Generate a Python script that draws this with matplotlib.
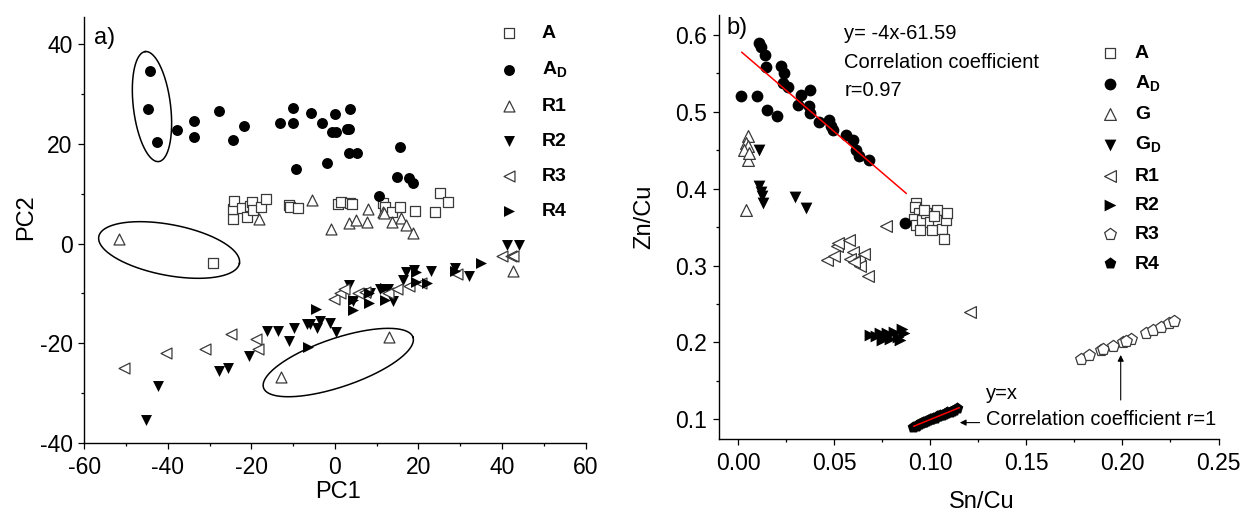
import numpy as np
import matplotlib
matplotlib.use('Agg')
import matplotlib.pyplot as plt

plt.rcParams['font.family'] = ['Liberation Sans', 'DejaVu Sans']
plt.rcParams['axes.unicode_minus'] = False
plt.rcParams['mathtext.fontset'] = 'custom'
plt.rcParams['mathtext.rm'] = 'Liberation Sans'
plt.rcParams['mathtext.bf'] = 'Liberation Sans:bold'

# ---- panel a) PCA scores ----
a_pc1 = [-24.4, -24.4, -24.2, -22.2, -21.0, -20.4, -19.8, -19.7, -17.8, -16.6, -10.9, -10.7, -8.8,
         0.8, 1.5, 3.7, 4.0, 11.4, 11.9, 13.6, 15.7, 19.1, 24.0, 25.1, 27.1, -29.3]
a_pc2 = [4.9, 6.9, 8.5, 7.2, 5.3, 7.5, 8.4, 6.7, 7.3, 8.9, 7.8, 7.3, 7.1,
         7.9, 8.3, 8.1, 7.9, 8.1, 7.4, 6.3, 7.3, 6.5, 6.3, 10.2, 8.4, -4.0]
ad_pc1 = [-44.2, -44.8, -42.7, -37.8, -33.7, -33.8, -27.7, -24.5, -21.8, -13.2, -10.0, -10.0, -9.4,
          -5.8, -3.2, -0.6, 0.2, 0.0, -2.0, 2.8, 3.4, 3.5, 3.3, 5.3, 15.7, 14.9, 17.8, 18.8, 10.5]
ad_pc2 = [34.6, 27.0, 20.4, 22.7, 24.6, 21.3, 26.7, 20.8, 23.6, 24.3, 27.3, 24.3, 14.9,
          26.3, 24.3, 22.3, 22.3, 26.1, 16.1, 23.0, 23.0, 27.0, 18.2, 18.2, 19.3, 13.4, 13.1, 12.2, 9.5]
r1_pc1 = [-18.1, -5.5, -1.0, 3.4, 5.0, 7.6, 7.8, 11.4, 11.8, 13.7, 15.9, 16.9, 18.6, -51.6, -12.9, 12.9, 42.6]
r1_pc2 = [4.9, 8.7, 2.9, 4.2, 4.7, 4.4, 6.9, 6.3, 6.1, 4.4, 5.1, 3.7, 2.2, 1.0, -26.9, -18.7, -5.6]
r2_pc1 = [-45.3, -42.4, -27.7, -25.7, -20.5, -16.2, -13.6, -10.9, -9.7, -6.7, -6.0, -4.2, -3.5, -1.2, 0.3,
          3.4, 4.4, 8.3, 10.7, 12.6, 14.0, 16.4, 17.1, 19.0, 23.1, 28.8, 32.1, 41.1, 44.0]
r2_pc2 = [-35.4, -28.6, -25.5, -24.9, -22.6, -17.6, -17.6, -19.6, -17.0, -16.2, -16.2, -16.9, -15.6, -16.0, -17.8,
          -8.4, -11.5, -10.0, -9.1, -9.1, -11.5, -7.3, -5.7, -5.4, -5.6, -5.0, -6.5, -0.3, -0.3]
r3_pc1 = [-50.5, -40.4, -31.1, -24.8, -18.8, -18.3, -0.2, 1.2, 2.2, 5.5, 7.1, 12.6, 14.8, 17.8, 20.5,
          29.2, 39.9, 42.1, 42.6]
r3_pc2 = [-24.9, -21.9, -21.2, -18.2, -19.2, -21.2, -11.1, -10.0, -9.2, -10.0, -9.7, -9.9, -9.2, -8.5, -7.9,
          -6.2, -2.6, -2.5, -2.6]
r4_pc1 = [-6.4, -4.6, 4.4, 4.4, 8.2, 8.2, 12.0, 12.0, 19.3, 19.3, 22.1, 28.8, 35.0]
r4_pc2 = [-20.7, -13.2, -11.3, -13.3, -10.0, -12.0, -11.3, -9.0, -7.7, -5.7, -8.0, -5.6, -4.0]

# ellipses: centre (data), semi-axes (px), angle (deg)
ell_cx = [-43.8, -39.7, 0.8]
ell_cy = [27.5, -1.3, -23.9]
ell_a = [55.4, 71.6, 78.9]
ell_b = [18.6, 25.4, 24.3]
ell_ang = [97, -10.8, 18.7]

# ---- panel b) ratios ----
b_a_x = [0.0926, 0.0920, 0.0940, 0.0916, 0.0926, 0.0957, 0.0947, 0.0978, 0.0999, 0.1009, 0.1036, 0.1040,
         0.1061, 0.1071, 0.1081, 0.1088, 0.0968, 0.1020]
b_a_y = [0.381, 0.376, 0.368, 0.361, 0.353, 0.359, 0.346, 0.368, 0.357, 0.346, 0.372, 0.359,
         0.348, 0.335, 0.359, 0.369, 0.372, 0.364]
b_ad_x = [0.0017, 0.0101, 0.0151, 0.0203, 0.0110, 0.0122, 0.0141, 0.0147, 0.0225, 0.0240, 0.0234, 0.0258,
          0.0327, 0.0372, 0.0312, 0.0368, 0.0374, 0.0420, 0.0471, 0.0482, 0.0492, 0.0560, 0.0596, 0.0612,
          0.0627, 0.0684, 0.0871]
b_ad_y = [0.521, 0.520, 0.502, 0.494, 0.590, 0.585, 0.574, 0.559, 0.560, 0.551, 0.538, 0.533,
          0.522, 0.528, 0.509, 0.507, 0.498, 0.487, 0.489, 0.481, 0.476, 0.470, 0.463, 0.450,
          0.443, 0.437, 0.355]
b_g_x = [0.0052, 0.0043, 0.0052, 0.0033, 0.0054, 0.0058, 0.0043]
b_g_y = [0.468, 0.459, 0.455, 0.450, 0.437, 0.447, 0.372]
b_gd_x = [0.0110, 0.0110, 0.0122, 0.0126, 0.0130, 0.0296, 0.0352]
b_gd_y = [0.450, 0.403, 0.396, 0.390, 0.382, 0.389, 0.375]
b_r1_x = [0.0771, 0.0461, 0.0513, 0.0519, 0.0502, 0.0580, 0.0596, 0.0585, 0.0627, 0.0658, 0.0637, 0.0678,
          0.1206, 0.0606]
b_r1_y = [0.352, 0.307, 0.325, 0.329, 0.312, 0.333, 0.318, 0.309, 0.309, 0.315, 0.299, 0.286,
          0.240, 0.305]
b_r2_x = [0.0689, 0.0740, 0.0750, 0.0775, 0.0790, 0.0813, 0.0833, 0.0854, 0.0864, 0.0844, 0.0760, 0.0720]
b_r2_y = [0.210, 0.212, 0.203, 0.212, 0.204, 0.214, 0.207, 0.218, 0.212, 0.203, 0.208, 0.208]
b_r3_x = [0.1785, 0.1826, 0.1888, 0.1898, 0.1950, 0.2002, 0.2043, 0.2120, 0.2157, 0.2202, 0.2240, 0.2270, 0.2020]
b_r3_y = [0.1785, 0.1840, 0.1900, 0.1920, 0.1950, 0.2010, 0.2050, 0.2120, 0.2160, 0.2200, 0.2250, 0.2280, 0.2020]
b_r4_x = [0.0912, 0.0925, 0.0931, 0.0944, 0.0950, 0.0963, 0.0968, 0.0979, 0.0991, 0.0998, 0.1006, 0.1017,
          0.1024, 0.1035, 0.1043, 0.1052, 0.1061, 0.1070, 0.1082, 0.1089, 0.1101, 0.1112, 0.1125, 0.1140]
b_r4_y = [0.0905, 0.0918, 0.0929, 0.0940, 0.0953, 0.0961, 0.0970, 0.0981, 0.0988, 0.1000, 0.1004, 0.1019,
          0.1021, 0.1037, 0.1041, 0.1055, 0.1060, 0.1072, 0.1080, 0.1091, 0.1099, 0.1114, 0.1127, 0.1150]
fit1_x = [0.0020, 0.0875]
fit1_y = [0.5775, 0.3940]
fit2_x = [0.0915, 0.1150]
fit2_y = [0.0910, 0.1150]

open_kw = dict(facecolors='white', edgecolors='#3a3a3a', linewidths=0.9)
fill_kw = dict(color='black', linewidths=0)

fig = plt.figure(figsize=(12.4, 5.13), dpi=100)
ax1 = fig.add_axes([0.068, 0.137, 0.4042, 0.830])
ax2 = fig.add_axes([0.5795, 0.1437, 0.4032, 0.827])

# panel a
ax1.scatter(a_pc1, a_pc2, marker='s', s=42, label='A', **open_kw)
ax1.scatter(ad_pc1, ad_pc2, marker='o', s=62, label='A$_{\\mathbf{D}}$', **fill_kw)
ax1.scatter(r1_pc1, r1_pc2, marker='^', s=62, label='R1', **open_kw)
ax1.scatter(r2_pc1, r2_pc2, marker='v', s=62, label='R2', **fill_kw)
ax1.scatter(r3_pc1, r3_pc2, marker='<', s=62, label='R3', **open_kw)
ax1.scatter(r4_pc1, r4_pc2, marker='>', s=62, label='R4', **fill_kw)
ax1.set_xlim(-60, 60)
ax1.set_ylim(-40, 45.5)
ax1.set_xticks(np.arange(-60, 61, 20))
ax1.set_xticks(np.arange(-50, 60, 20), minor=True)
ax1.set_yticks(np.arange(-40, 41, 20))
ax1.set_yticks(np.arange(-30, 45, 20), minor=True)
ax1.set_xlabel('PC1', fontsize=17, va='center')
ax1.set_ylabel('PC2', fontsize=17, va='center')
ax1.xaxis.set_label_coords(0.506, -0.1157)
ax1.yaxis.set_label_coords(-0.1167, 0.53)
ax1.text(-57.6, 41.2, 'a)', fontsize=17, va='center', ha='left')


def draw_ellipse(ax, cx, cy, a_px, b_px, ang):
    # ellipse defined in screen pixels so the shape is not sheared by the axis scales
    pos = ax.get_position()
    x0, x1 = ax.get_xlim()
    y0, y1 = ax.get_ylim()
    sx = pos.width * fig.get_figwidth() * fig.dpi / (x1 - x0)
    sy = pos.height * fig.get_figheight() * fig.dpi / (y1 - y0)
    t = np.linspace(0, 2 * np.pi, 300)
    th = np.deg2rad(ang)
    u = a_px * np.cos(t)
    v = b_px * np.sin(t)
    ax.plot(cx + (u * np.cos(th) - v * np.sin(th)) / sx,
            cy + (u * np.sin(th) + v * np.cos(th)) / sy, color='black', lw=1.1)


for cx, cy, ea, eb, ang in zip(ell_cx, ell_cy, ell_a, ell_b, ell_ang):
    draw_ellipse(ax1, cx, cy, ea, eb, ang)

ax1.legend(loc='upper left', bbox_to_anchor=(0.4024, 0.952), bbox_transform=fig.transFigure,
           frameon=False, borderpad=0, borderaxespad=0, handlelength=1.0, handletextpad=1.2,
           labelspacing=0.9, scatterpoints=1, prop={'weight': 'bold', 'size': 14})

# panel b
ax2.scatter(b_a_x, b_a_y, marker='s', s=52, label='A', **open_kw)
ax2.scatter(b_ad_x, b_ad_y, marker='o', s=72, label='A$_{\\mathbf{D}}$', **fill_kw)
ax2.scatter(b_g_x, b_g_y, marker='^', s=72, label='G', **open_kw)
ax2.scatter(b_gd_x, b_gd_y, marker='v', s=72, label='G$_{\\mathbf{D}}$', **fill_kw)
ax2.scatter(b_r1_x, b_r1_y, marker='<', s=72, label='R1', **open_kw)
ax2.scatter(b_r2_x, b_r2_y, marker='>', s=72, label='R2', **fill_kw)
ax2.scatter(b_r3_x, b_r3_y, marker='p', s=78, label='R3', **open_kw)
ax2.scatter(b_r4_x, b_r4_y, marker='p', s=78, label='R4', **fill_kw)
ax2.plot(fit1_x, fit1_y, color='red', lw=1.1)
ax2.plot(fit2_x, fit2_y, color='red', lw=1.1)
ax2.set_xlim(-0.0101, 0.25)
ax2.set_ylim(0.074, 0.626)
ax2.set_xticks(np.arange(0, 0.251, 0.05))
ax2.set_xticks(np.arange(0.025, 0.25, 0.05), minor=True)
ax2.set_yticks(np.arange(0.1, 0.61, 0.1))
ax2.set_yticks(np.arange(0.15, 0.6, 0.1), minor=True)
ax2.xaxis.set_major_formatter(matplotlib.ticker.FormatStrFormatter('%.2f'))
ax2.yaxis.set_major_formatter(matplotlib.ticker.FormatStrFormatter('%.1f'))
ax2.set_xlabel('Sn/Cu', fontsize=17, va='center')
ax2.set_ylabel('Zn/Cu', fontsize=17, va='center')
ax2.xaxis.set_label_coords(0.526, -0.147)
ax2.yaxis.set_label_coords(-0.1496, 0.524)
ax2.text(-0.0058, 0.609, 'b)', fontsize=17, va='center', ha='left')
ax2.text(0.0554, 0.602, 'y= -4x-61.59', fontsize=14.5, va='center')
ax2.text(0.0554, 0.564, 'Correlation coefficient', fontsize=14.5, va='center')
ax2.text(0.0554, 0.528, 'r=0.97', fontsize=14.5, va='center')
ax2.text(0.1288, 0.1338, 'y=x', fontsize=14.5, va='center')
ax2.text(0.1288, 0.1000, 'Correlation coefficient r=1', fontsize=14.5, va='center')
arrow = dict(arrowstyle='-|>', color='black', lw=0.8, mutation_scale=9, shrinkA=0, shrinkB=0)
ax2.annotate('', xy=(0.1154, 0.0957), xytext=(0.1257, 0.0957), arrowprops=arrow)
ax2.annotate('', xy=(0.1991, 0.1837), xytext=(0.1991, 0.1251), arrowprops=arrow)

ax2.legend(loc='upper left', bbox_to_anchor=(0.887, 0.913), bbox_transform=fig.transFigure,
           frameon=False, borderpad=0, borderaxespad=0, handlelength=1.0, handletextpad=0.8,
           labelspacing=0.6, scatterpoints=1, prop={'weight': 'bold', 'size': 14})

for ax in (ax1, ax2):
    ax.spines['top'].set_visible(False)
    ax.spines['right'].set_visible(False)
    for sp in ('left', 'bottom'):
        ax.spines[sp].set_linewidth(1.0)
    ax.tick_params(which='major', direction='out', length=4.5, width=0.9, labelsize=16.5, pad=5)
    ax.tick_params(which='minor', direction='out', length=2.5, width=0.9)
    ax.tick_params(axis='y', pad=4)

fig.savefig('out.png', dpi=100)
